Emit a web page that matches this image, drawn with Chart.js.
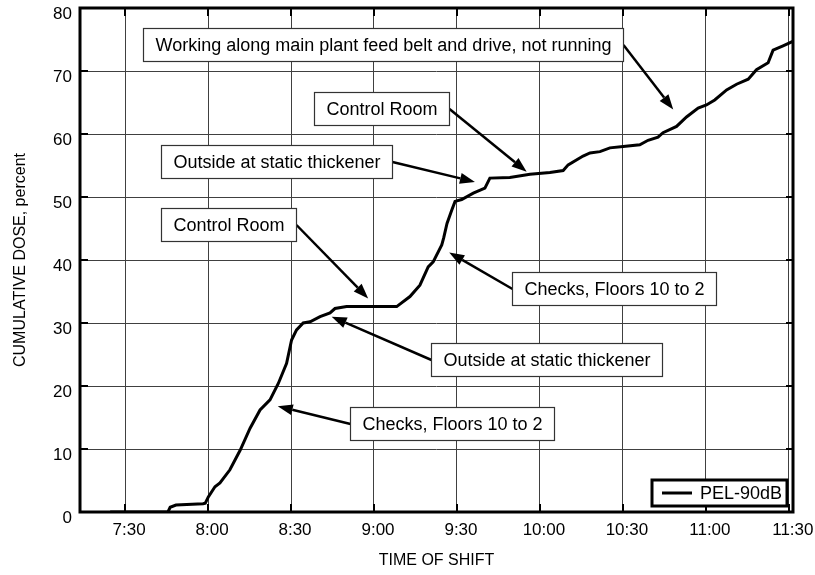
<!DOCTYPE html>
<html>
<head>
<meta charset="utf-8">
<script src="https://cdn.jsdelivr.net/npm/chart.js@4.4.0/dist/chart.umd.min.js"></script>
<style>
  body { margin: 0; background: #fff; }
  #wrap { width: 815px; height: 575px; }
</style>
</head>
<body>
<div id="wrap"><canvas id="doseChart" width="815" height="575"></canvas></div>
<script>
// time of shift, minutes after midnight
var shiftTime = [444.6, 465.5, 466.3, 468.4, 478.2, 479.0, 480.1, 482.5, 484.3, 487.9,
    491.6, 495.2, 498.8, 502.4, 505.4, 508.4, 510.2, 512.0, 514.4, 516.9,
    520.5, 524.1, 525.9, 530.1, 548.2, 553.0, 556.6, 559.6, 561.4, 564.5,
    565.2, 566.4, 568.1, 569.3, 571.7, 575.9, 580.1, 581.9, 589.1, 596.4,
    603.6, 608.4, 610.2, 615.6, 618.1, 621.7, 625.3, 630.1, 636.1, 639.1,
    642.7, 644.5, 649.4, 653.0, 657.2, 660.2, 663.2, 667.5, 671.1, 675.3,
    678.3, 682.5, 684.3, 687.9, 691.4];
// cumulative dose, percent
var cumDose = [0, 0, 0.75, 1.1, 1.3, 1.4, 2.4, 4.0, 4.6, 6.7,
    9.8, 13.3, 16.2, 17.8, 20.4, 23.6, 27.3, 28.9, 30.0, 30.2,
    31.0, 31.6, 32.3, 32.6, 32.6, 34.2, 36.0, 38.9, 39.7, 42.4,
    43.5, 45.8, 47.9, 49.3, 49.6, 50.6, 51.4, 53.0, 53.1, 53.6,
    53.9, 54.2, 55.1, 56.5, 57.0, 57.2, 57.8, 58.0, 58.3, 59.0,
    59.5, 60.2, 61.2, 62.7, 64.1, 64.6, 65.4, 67.0, 67.9, 68.7,
    70.2, 71.3, 73.3, 74.0, 74.7];
var timeLabels = ['7:30', '8:00', '8:30', '9:00', '9:30', '10:00', '10:30', '11:00', '11:30'];
var doseTicks = [0, 10, 20, 30, 40, 50, 60, 70, 80];

// activity notes: box corner (time, %) and arrow tip (time, %)
var notes = [
    { text: 'Working along main plant feed belt and drive, not running', box: [456.5, 76.8], tip: [648.2, 63.9] },
    { text: 'Control Room', box: [518.3, 66.7], tip: [595.2, 54.0] },
    { text: 'Outside at static thickener', box: [463.0, 58.3], tip: [576.5, 52.4] },
    { text: 'Control Room', box: [462.9, 48.2], tip: [537.9, 33.9] },
    { text: 'Checks, Floors 10 to 2', box: [589.8, 38.1], tip: [567.2, 41.2] },
    { text: 'Outside at static thickener', box: [560.5, 26.8], tip: [524.7, 31.0] },
    { text: 'Checks, Floors 10 to 2', box: [531.3, 16.7], tip: [505.2, 16.8] }
];

function toMinutes(s) {
    var p = s.split(':');
    return parseInt(p[0]) * 60 + parseInt(p[1]);
}
function toClock(m) {
    var h = Math.floor(m / 60), mm = Math.round(m - h * 60);
    return h + ':' + (mm < 10 ? '0' : '') + mm;
}

var FONT = "'Liberation Sans', Arial, sans-serif";

var points = shiftTime.map(function(t, i) { return { x: t, y: cumDose[i] }; });

function arrow(ctx, x0, y0, x1, y1) {
    var ang = Math.atan2(y1 - y0, x1 - x0);
    var len = 15, half = 5.5;
    var bx = x1 - len * Math.cos(ang), by = y1 - len * Math.sin(ang);
    ctx.beginPath();
    ctx.moveTo(x0, y0);
    ctx.lineTo(bx, by);
    ctx.stroke();
    ctx.beginPath();
    ctx.moveTo(x1, y1);
    ctx.lineTo(bx + half * Math.sin(ang), by - half * Math.cos(ang));
    ctx.lineTo(bx - half * Math.sin(ang), by + half * Math.cos(ang));
    ctx.closePath();
    ctx.fill();
}

var decor = {
    id: 'decor',
    afterDatasetsDraw: function(chart) {
        var ctx = chart.ctx, a = chart.chartArea;
        var xs = chart.scales.x, ys = chart.scales.y;
        ctx.save();

        // callout boxes with arrows
        ctx.font = '18px ' + FONT;
        notes.forEach(function(n) {
            var bx = Math.round(xs.getPixelForValue(n.box[0])) + 0.5;
            var by = Math.round(ys.getPixelForValue(n.box[1])) + 0.5;
            var w = Math.round(ctx.measureText(n.text).width + 24), h = 33;
            var tx = xs.getPixelForValue(n.tip[0]), ty = ys.getPixelForValue(n.tip[1]);
            var sx = tx > bx + w / 2 ? bx + w : bx;
            ctx.strokeStyle = '#000';
            ctx.fillStyle = '#000';
            ctx.lineWidth = 2.5;
            arrow(ctx, sx, by + h / 2, tx, ty);
            ctx.fillStyle = '#fff';
            ctx.fillRect(bx, by, w, h);
            ctx.strokeStyle = '#333';
            ctx.lineWidth = 1.2;
            ctx.strokeRect(bx, by, w, h);
            ctx.fillStyle = '#000';
            ctx.textBaseline = 'middle';
            ctx.textAlign = 'left';
            ctx.fillText(n.text, bx + 12, by + h / 2 + 1);
        });

        // inward tick marks on all four sides
        ctx.strokeStyle = '#000';
        ctx.lineWidth = 2;
        ctx.beginPath();
        xs.ticks.forEach(function(t) {
            var px = Math.round(xs.getPixelForValue(t.value));
            ctx.moveTo(px, a.bottom); ctx.lineTo(px, a.bottom - 8);
            ctx.moveTo(px, a.top); ctx.lineTo(px, a.top + 8);
        });
        ys.ticks.forEach(function(t) {
            var py = Math.round(ys.getPixelForValue(t.value));
            ctx.moveTo(a.left, py); ctx.lineTo(a.left + 8, py);
            ctx.moveTo(a.right, py); ctx.lineTo(a.right - 7, py);
        });
        ctx.stroke();

        // plot frame
        ctx.lineWidth = 3;
        ctx.strokeRect(a.left, a.top, a.right - a.left, a.bottom - a.top);

        // legend in the lower right corner
        var ds = chart.data.datasets[0];
        var lw = 135, lh = 26;
        var lx = a.right - 6 - lw, ly = a.bottom - 6 - lh;
        ctx.fillStyle = '#fff';
        ctx.fillRect(lx, ly, lw, lh);
        ctx.lineWidth = 3;
        ctx.strokeRect(lx, ly, lw, lh);
        ctx.beginPath();
        ctx.moveTo(lx + 10, ly + lh / 2);
        ctx.lineTo(lx + 40, ly + lh / 2);
        ctx.stroke();
        ctx.fillStyle = '#000';
        ctx.font = '18px ' + FONT;
        ctx.textBaseline = 'middle';
        ctx.fillText(ds.label, lx + 48, ly + lh / 2 + 1);
        ctx.restore();
    }
};

new Chart(document.getElementById('doseChart'), {
    type: 'line',
    data: {
        datasets: [{
            label: 'PEL-90dB',
            data: points,
            borderColor: '#000',
            borderWidth: 3,
            pointRadius: 0,
            tension: 0,
            fill: false
        }]
    },
    options: {
        responsive: false,
        animation: false,
        layout: { padding: { top: 8, right: 22, left: 0, bottom: 0 } },
        plugins: {
            legend: { display: false },
            tooltip: { enabled: false }
        },
        scales: {
            x: {
                type: 'linear',
                min: 433.7,
                max: 691.5,
                afterBuildTicks: function(s) {
                    s.ticks = timeLabels.map(function(l) { return { value: toMinutes(l) }; });
                },
                afterFit: function(s) {
                    s.height = 63;
                    s.paddingLeft = 0; s.paddingRight = 0;
                },
                grid: { color: '#404040', lineWidth: 1, drawTicks: false },
                border: { display: false },
                ticks: {
                    color: '#000',
                    padding: 8,
                    labelOffset: 4,
                    maxRotation: 0,
                    font: { family: FONT, size: 17 },
                    callback: function(v) { return toClock(v); }
                },
                title: {
                    display: true,
                    text: 'TIME OF SHIFT',
                    color: '#000',
                    font: { family: FONT, size: 16 },
                    padding: { top: 0, bottom: 5 }
                }
            },
            y: {
                min: 0,
                max: 80,
                afterBuildTicks: function(s) {
                    s.ticks = doseTicks.map(function(v) { return { value: v }; });
                },
                afterFit: function(s) {
                    s.width = 80;
                    s.paddingTop = 0; s.paddingBottom = 0;
                },
                grid: { color: '#404040', lineWidth: 1, drawTicks: false },
                border: { display: false },
                ticks: {
                    color: '#000',
                    padding: 8,
                    labelOffset: 6,
                    font: { family: FONT, size: 17 }
                },
                title: {
                    display: true,
                    text: 'CUMULATIVE DOSE, percent',
                    color: '#000',
                    font: { family: FONT, size: 16 },
                    padding: { top: 11, bottom: 0 }
                }
            }
        }
    },
    plugins: [decor]
});
</script>
</body>
</html>
